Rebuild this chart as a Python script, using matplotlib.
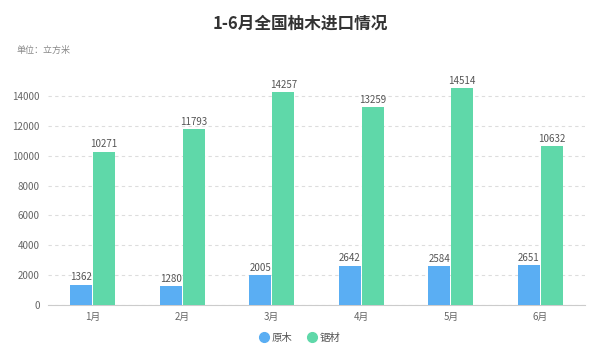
import numpy as np
import matplotlib.pyplot as plt
from matplotlib.lines import Line2D

plt.rcParams['font.family'] = ['Noto Sans CJK SC', 'DejaVu Sans']

months = ['1月', '2月', '3月', '4月', '5月', '6月']
logs = [1362, 1280, 2005, 2642, 2584, 2651]      # 原木
lumber = [10271, 11793, 14257, 13259, 14514, 10632]  # 锯材

blue = '#5aaef3'
green = '#5fd8a9'

fig = plt.figure(figsize=(6, 3.64), dpi=100)
ax = fig.add_axes([0.08, 0.162, 0.895, 0.5954])

x = np.arange(len(months))
w = 0.245
b1 = ax.bar(x - w / 2 - 0.005, logs, w, color=blue, label='原木', zorder=3)
b2 = ax.bar(x + w / 2 + 0.005, lumber, w, color=green, label='锯材', zorder=3)

for bars, vals in ((b1, logs), (b2, lumber)):
    for r, v in zip(bars, vals):
        ax.text(r.get_x() + r.get_width() / 2, v + 150, str(v), ha='center', va='bottom',
                fontsize=7, color='#555555', zorder=4)

ax.set_xlim(-0.5, len(months) - 0.5)
ax.set_ylim(0, 14514)
ax.set_yticks(range(0, 14001, 2000))
ax.set_xticks(x)
ax.set_xticklabels(months)
ax.yaxis.grid(True, linestyle=(0, (3, 3)), color='#dddddd', linewidth=0.8, zorder=0)
ax.tick_params(axis='y', length=0, labelsize=7, labelcolor='#666666', pad=6)
ax.tick_params(axis='x', length=0, labelsize=7, labelcolor='#666666', pad=5)
for s in ('top', 'right', 'left'):
    ax.spines[s].set_visible(False)
ax.spines['bottom'].set_color('#cccccc')

fig.text(0.5, 0.935, '1-6月全国柚木进口情况', ha='center', va='center',
         fontsize=12, fontweight='bold', color='#333333')
fig.text(0.027, 0.862, '单位：立方米', ha='left', va='center', fontsize=6.5, color='#888888')

handles = [Line2D([], [], marker='o', linestyle='', markersize=7, color=blue, label='原木'),
           Line2D([], [], marker='o', linestyle='', markersize=7, color=green, label='锯材')]
leg = fig.legend(handles=handles, loc='center', bbox_to_anchor=(0.5, 0.072), ncol=2,
                 frameon=False, fontsize=7.5, handlelength=0.8,
                 columnspacing=1.5, handletextpad=0.3)
for t in leg.get_texts():
    t.set_color('#555555')

plt.savefig('out.png', dpi=100)
